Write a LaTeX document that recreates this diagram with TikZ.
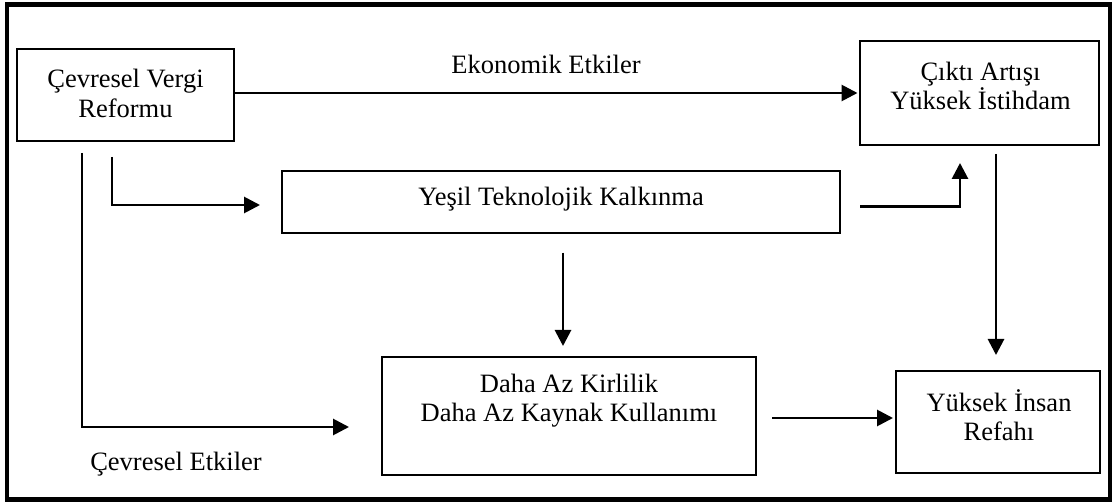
\documentclass[tikz,border=0pt]{standalone}
\usepackage{fontspec}
\setmainfont{Liberation Serif}
\usetikzlibrary{arrows.meta}
\begin{document}
\begin{tikzpicture}[x=1pt,y=-1pt,
  box/.style={draw, line width=2pt, inner sep=0pt},
  lbl/.style={font=\fontsize{26.5}{29.5}\selectfont, align=center, inner sep=0pt},
  arr/.style={line width=2.8pt, -{Triangle[length=16pt,width=16pt]}}]
\useasboundingbox (0,0) rectangle (1113,502);
\draw[line width=4.5pt] (7,4.5) rectangle (1110,499.5);
% boxes
\node[box, minimum width=217pt, minimum height=92pt] (cvr) at (125.5,95) {};
\node[box, minimum width=239pt, minimum height=104pt] (cik) at (979.5,93) {};
\node[box, minimum width=558pt, minimum height=62pt] (yes) at (561,201.7) {};
\node[box, minimum width=374pt, minimum height=118pt] (daha) at (569,416) {};
\node[box, minimum width=204pt, minimum height=102pt] (ref) at (998,422) {};
% texts
\node[lbl] (cvrt) at (125.5,93.5) {Çevresel Vergi\\Reformu};
\node[lbl] (cikt) at (980.5,86) {Çıktı Artışı\\Yüksek İstihdam};
\node[lbl] (yest) at (561,199.5) {Yeşil Teknolojik Kalkınma};
\node[lbl] (dahat) at (569,400.5) {Daha Az Kirlilik\\Daha Az Kaynak Kullanımı};
\node[lbl] (reft) at (999,415) {Yüksek İnsan\\Refahı};
\node[lbl] (ekt) at (546,64) {Ekonomik Etkiler};
\node[lbl] (cet) at (176,464.5) {Çevresel Etkiler};
% start points of the branch lines
\coordinate (s1) at (112,157);
\coordinate (s2) at (82,153);
% connectors
\draw[arr, shorten >=1.5pt] (cvr.east |- cik.west) -- (cik.west);
\draw[arr, shorten >=21pt] (s1) |- ([yshift=-3.3pt]yes.west);
\draw[arr, shorten >=32pt] (s2) |- ([yshift=-11pt]daha.west);
\draw[arr, shorten <=19pt, shorten >=17pt] ([yshift=-5pt]yes.east) -| ([xshift=-19.5pt]cik.south);
\draw[arr, shorten <=19pt, shorten >=10pt] ([xshift=2pt]yes.south) -- ([xshift=2pt]yes.south |- daha.north);
\draw[arr, shorten <=8pt, shorten >=15pt] ([xshift=-2pt]ref.north |- cik.south) -- ([xshift=-2pt]ref.north);
\draw[arr, shorten <=15pt, shorten >=2pt] ([yshift=-2pt]daha.east) -- ([yshift=-2pt]daha.east -| ref.west);
\end{tikzpicture}
\end{document}
